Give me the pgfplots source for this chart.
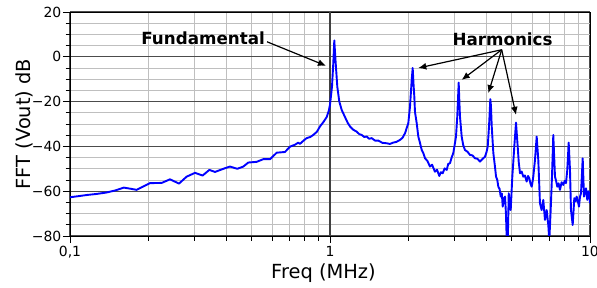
\documentclass[border=0pt]{standalone}
\usepackage{pgfplots}
\pgfplotsset{compat=1.18}
\usepackage{fontspec}
\setmainfont{DejaVu Sans}
\usetikzlibrary{arrows.meta}
\begin{document}
\begin{tikzpicture}
\useasboundingbox (0,0) rectangle (597bp,288bp);
\begin{axis}[
  at={(70bp,52bp)}, anchor=south west,
  width=520bp, height=224bp, scale only axis,
  xmode=log, xmin=0.1, xmax=10, ymin=-80, ymax=20,
  xtick={0.1,1,10}, xticklabels={{0,1},1,10},
  ytick={-80,-60,-40,-20,0,20},
  yticklabels={−80,−60,−40,−20,0,20},
  minor ytick={-75,-70,-65,-55,-50,-45,-35,-30,-25,-15,-10,-5,5,10,15},
  grid=both,
  major grid style={black!70, line width=1.1bp},
  minor grid style={black!25, line width=0.9bp},
  axis line style={black, line width=0.9bp},
  tick align=outside, tick pos=left,
  major tick length=7bp, minor tick length=4.5bp,
  tick style={black, line width=0.8bp},
  ticklabel style={font=\fontsize{14}{14}\selectfont},
  yticklabel style={inner sep=1.5bp},
  xticklabel style={inner sep=3bp},
  xlabel={Freq (MHz)}, ylabel={FFT (Vout) dB},
  label style={font=\fontsize{19.5}{20}\selectfont},
  xlabel style={at={(axis description cs:0.4875,0)}, anchor=center, yshift=-37bp},
  ylabel style={at={(axis description cs:-0.0885,0.5)}, anchor=center},
]
\draw[black!75, line width=1.1bp] (axis cs:1,-80) -- (axis cs:1,20);
\addplot[color={rgb,255:red,0;green,0;blue,255}, line width=1.9bp, line join=round] coordinates {
(0.100,-62.7)(0.108,-62.2)(0.116,-61.7)(0.127,-61.2)(0.138,-60.6)(0.150,-59.6)
(0.161,-58.4)(0.171,-58.9)(0.1805,-59.4)(0.192,-57.8)(0.203,-56.4)(0.2253,-56.3)
(0.2424,-54.7)(0.2626,-56.6)(0.281,-53.5)(0.3026,-51.8)(0.3236,-53.0)(0.3436,-50.5)
(0.3613,-51.4)(0.389,-50.0)(0.4125,-49.0)(0.440,-50.0)(0.4642,-49.0)(0.485,-47.2)
(0.5224,-46.9)(0.554,-45.7)(0.588,-45.7)(0.624,-42.8)(0.671,-42.5)(0.702,-40.1)
(0.735,-39.2)(0.755,-38.3)(0.766,-38.9)(0.79,-37.5)(0.813,-36.3)(0.84,-35.8)
(0.862,-34.9)(0.89,-33.5)(0.9152,-31.1)(0.945,-29.0)(0.9712,-26.9)(0.99,-24)
(1.0,-21.4)(1.0179,-13.3)(1.0297,-2.8)(1.0388,7.3)(1.0517,-2.8)(1.0668,-13.3)
(1.0859,-20)(1.109,-23.7)(1.142,-26.9)(1.17,-29.5)(1.194,-31.1)(1.23,-32.6)
(1.2665,-33.4)(1.295,-34.5)(1.324,-34.9)(1.355,-35.8)(1.384,-35.6)(1.415,-36.6)
(1.447,-36.3)(1.49,-37.4)(1.534,-37.4)(1.59,-38.4)(1.652,-38.6)(1.70,-38.9)
(1.752,-38.3)(1.80,-38.0)(1.859,-37.1)(1.90,-36.2)(1.944,-34.1)(2.001,-29.6)
(2.031,-22.2)(2.062,-10.3)(2.080,-5.0)(2.095,-12)(2.110,-17.7)(2.123,-24.7)
(2.155,-29.6)(2.186,-35.6)(2.22,-38.5)(2.253,-41.6)(2.285,-43.0)(2.320,-45.3)
(2.37,-46.5)(2.424,-49.0)(2.47,-48.2)(2.533,-51.3)(2.58,-50.4)(2.633,-53.2)
(2.67,-51.5)(2.714,-52.0)(2.76,-49.8)(2.811,-50.5)(2.85,-47.8)(2.894,-47.5)
(2.94,-44.8)(2.980,-43.0)(3.02,-39)(3.052,-35.6)(3.087,-26.7)(3.126,-11.5)
(3.145,-20)(3.162,-26.7)(3.210,-35.6)(3.255,-39.5)(3.305,-41.6)(3.38,-42.4)
(3.455,-43.8)(3.53,-44.0)(3.612,-45.3)(3.69,-45.5)(3.776,-46.8)(3.86,-45.6)
(3.947,-44.6)(4.00,-42.5)(4.042,-40.1)(4.089,-31.1)(4.137,-18.9)(4.16,-22)
(4.189,-31.1)(4.249,-43.0)(4.30,-48)(4.352,-53.5)(4.40,-55)(4.441,-58.0)
(4.49,-59)(4.536,-62.4)(4.58,-61)(4.617,-66.9)(4.66,-63.5)(4.712,-62.4)
(4.75,-70)(4.784,-82)(4.827,-83)(4.869,-60.9)(4.91,-66)(4.955,-68.4)
(4.99,-61)(5.026,-53.5)(5.07,-47)(5.115,-40.1)(5.193,-29.4)(5.271,-40.1)
(5.32,-47)(5.380,-52.0)(5.46,-51.2)(5.540,-53.5)(5.62,-53.0)(5.708,-55.7)
(5.78,-53.2)(5.841,-54.2)(5.90,-56.5)(5.967,-58.0)(6.01,-56)(6.052,-53.5)
(6.144,-46.0)(6.237,-35.6)(6.326,-46.0)(6.421,-65.4)(6.518,-68.4)(6.612,-63.9)
(6.712,-72.8)(6.815,-68.4)(6.912,-75.1)(6.974,-82)(7.060,-68.4)(7.142,-53.5)
(7.225,-34.9)(7.335,-53.5)(7.41,-55.5)(7.485,-58.0)(7.57,-56.5)(7.666,-59.4)
(7.78,-56)(7.893,-57.2)(7.99,-55.4)(8.085,-56.4)(8.178,-50.5)(8.280,-38.3)
(8.376,-50.5)(8.450,-68.4)(8.580,-75.1)(8.702,-63.1)(8.80,-64.5)(8.888,-62.4)
(8.98,-64.5)(9.072,-66.9)(9.15,-62.5)(9.235,-60.9)(9.374,-45.3)(9.482,-62.4)
(9.652,-58.7)(9.763,-63.9)(9.85,-60)(9.938,-60.9)(10.0,-65.4)
};
\node[anchor=east, inner sep=0pt, font=\fontsize{16.8}{17}\selectfont\bfseries] at (axis cs:0.5623,8.2) {Fundamental};
\node[anchor=center, inner sep=0pt, font=\fontsize{16.8}{17}\selectfont\bfseries] at (axis cs:4.61,7.9) {Harmonics};
\draw[-{Latex[length=8bp,width=7bp]}, line width=1.2bp] (axis cs:0.5726,6.7) -- (axis cs:0.965,-4.0);
\draw[-{Latex[length=8bp,width=7bp]}, line width=1.2bp] (axis cs:4.575,3.15) -- (axis cs:2.186,-5.0);
\draw[-{Latex[length=8bp,width=7bp]}, line width=1.2bp] (axis cs:4.575,3.15) -- (axis cs:3.21,-10.3);
\draw[-{Latex[length=8bp,width=7bp]}, line width=1.2bp] (axis cs:4.575,3.15) -- (axis cs:4.064,-16.2);
\draw[-{Latex[length=8bp,width=7bp]}, line width=1.2bp] (axis cs:4.575,3.15) -- (axis cs:5.193,-25.9);
\end{axis}
\end{tikzpicture}
\end{document}
